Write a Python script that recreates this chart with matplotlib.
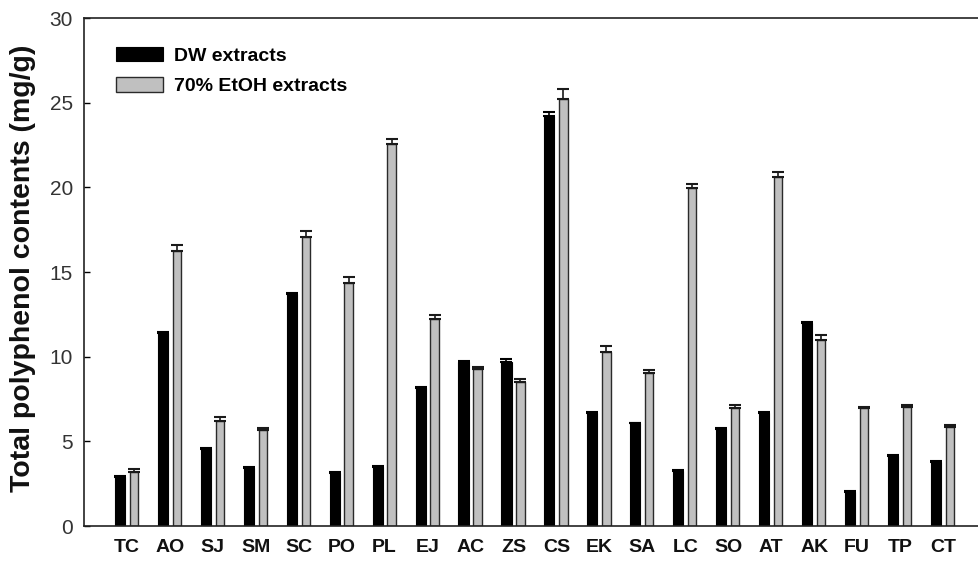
import matplotlib
matplotlib.use("Agg")
import matplotlib.pyplot as plt
import numpy as np

categories = ["TC", "AO", "SJ", "SM", "SC", "PO", "PL", "EJ", "AC", "ZS",
              "CS", "EK", "SA", "LC", "SO", "AT", "AK", "FU", "TP", "CT"]
dw_values = [2.88, 11.42, 4.53, 3.43, 13.70, 3.15, 3.50, 8.13, 9.69, 9.69,
             24.22, 6.66, 6.06, 3.25, 5.73, 6.69, 12.01, 2.03, 4.13, 3.76]
dw_err = [0.05, 0.05, 0.05, 0.05, 0.05, 0.05, 0.05, 0.05, 0.05, 0.17,
          0.25, 0.05, 0.05, 0.05, 0.08, 0.05, 0.05, 0.05, 0.05, 0.05]
etoh_values = [3.21, 16.25, 6.22, 5.67, 17.05, 14.33, 22.56, 12.23, 9.25, 8.49,
               25.20, 10.30, 9.06, 19.94, 6.95, 20.60, 10.99, 6.99, 7.01, 5.83]
etoh_err = [0.14, 0.35, 0.20, 0.10, 0.35, 0.36, 0.28, 0.25, 0.16, 0.19,
            0.63, 0.35, 0.15, 0.26, 0.20, 0.33, 0.29, 0.05, 0.14, 0.12]
yticks = [0, 5, 10, 15, 20, 25, 30]

plt.rcParams['font.family'] = ['Liberation Sans', 'DejaVu Sans']

fig = plt.figure(figsize=(9.79, 5.67), dpi=100)
ax = fig.add_axes([84/979, 41/567, 895/979, 508/567])

x = np.arange(len(categories))
off = 0.163
ax.bar(x - off, dw_values, width=0.235, color='black', edgecolor='black',
       linewidth=0.8, label='DW extracts', zorder=2)
ax.bar(x + off, etoh_values, width=0.195, color='#c0c0c0', edgecolor='#2a2a2a',
       linewidth=1.0, label='70% EtOH extracts', zorder=2)
n = len(categories)
ax.errorbar(x - off, dw_values, yerr=[[0]*n, dw_err], fmt='none', ecolor='black',
            elinewidth=1.2, capsize=4.5, capthick=1.5, zorder=3)
ax.errorbar(x + off, etoh_values, yerr=[[0]*n, etoh_err], fmt='none', ecolor='#1a1a1a',
            elinewidth=1.2, capsize=4.5, capthick=1.5, zorder=3)

ax.set_xlim(-1.0, 19.84)
ax.set_ylim(0, 30)
ax.set_yticks(yticks)
ax.set_yticklabels([str(v) for v in yticks], fontsize=15, color='#333333')
ax.tick_params(axis='y', direction='in', length=4, width=1, pad=8)
ax.set_xticks(x)
ax.set_xticklabels(categories, fontsize=14, fontweight='bold', color='#111111')
ax.tick_params(axis='x', length=0, pad=9)

ax.spines['right'].set_visible(False)
for s in ['left', 'bottom', 'top']:
    ax.spines[s].set_linewidth(1.2)
    ax.spines[s].set_color('#222222')

ax.set_ylabel('Total polyphenol contents (mg/g)', fontsize=20.5, fontweight='bold',
              va='center', color='#111111')
ax.yaxis.set_label_coords(-0.068, 0.508)

ax.legend(loc='upper left', bbox_to_anchor=(0.036, 0.943), frameon=False,
          prop={'size': 14, 'weight': 'bold'}, handlelength=2.4, handleheight=0.75,
          handletextpad=0.55, labelspacing=0.65, borderpad=0, borderaxespad=0)

fig.savefig('out.png', dpi=100)
